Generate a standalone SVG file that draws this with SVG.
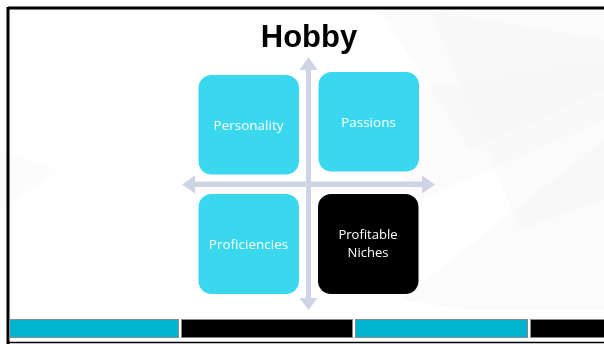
<svg xmlns="http://www.w3.org/2000/svg" width="604" height="344" viewBox="0 0 604 344">
  <style>
    .box { fill: #39D8EF; }
    .dark { fill: #000000; }
    .lbl { font-family: "Open Sans", "Noto Sans", sans-serif; font-size: 13.5px; fill: #FFFFFF; text-anchor: middle; }
    .lbl2 { font-family: "Open Sans", "Noto Sans", sans-serif; font-size: 13px; fill: #FFFFFF; text-anchor: middle; }
    .title { font-family: "Liberation Sans", Arial, sans-serif; font-size: 31px; font-weight: bold; fill: #000000; text-anchor: middle; }
    .axis { fill: #CED4E6; }
    .facet { fill: #D9D9D9; }
    .bandc { fill: #00B3CF; stroke: #8A8A8A; stroke-width: 1; }
    .bandk { fill: #000000; stroke: #8A8A8A; stroke-width: 1; }
  </style>
  <rect x="0" y="0" width="604" height="344" fill="#FFFFFF"/>
  <g id="background" opacity="0.3">
    <polygon class="facet" points="380,10 604,10 604,90 470,150" opacity="0.4"/>
    <polygon class="facet" points="430,10 604,40 604,200 520,230" opacity="0.35"/>
    <polygon class="facet" points="400,300 604,140 604,310 470,310" opacity="0.35"/>
    <polygon class="facet" points="350,100 604,60 604,120 420,200" opacity="0.3"/>
    <polygon class="facet" points="0,150 60,170 0,210" opacity="0.2"/>
  </g>
  <g id="frame">
    <line x1="8" y1="8" x2="604" y2="8" stroke="#000000" stroke-width="3"/>
    <line x1="8" y1="7" x2="8" y2="344" stroke="#000000" stroke-width="3"/>
    <line x1="8" y1="342.5" x2="604" y2="342.5" stroke="#000000" stroke-width="1.5"/>
  </g>
  <g id="band">
    <rect class="bandc" x="9.5" y="319.5" width="169" height="18"/>
    <rect class="bandk" x="181.5" y="319.5" width="171" height="18"/>
    <rect class="bandc" x="355.5" y="319.5" width="172" height="18"/>
    <rect class="bandk" x="530.5" y="319.5" width="80" height="18"/>
  </g>
  <g id="title">
    <text class="title" x="309" y="47">Hobby</text>
  </g>
  <g id="connectors">
    <polygon class="axis" points="308.5,57 317.5,70 311,70 311,181.5 422,181.5 422,175.5 435,184.5 422,193.5 422,187 311,187 311,298 317.5,298 308.5,310 299.5,298 306,298 306,187 195,187 195,193.5 182,184.5 195,175.5 195,181.5 306,181.5 306,70 299.5,70"/>
  </g>
  <g id="node-personality">
    <rect class="box" x="198.5" y="75" width="100.5" height="99.5" rx="13"/>
    <text class="lbl" x="248.5" y="130">Personality</text>
  </g>
  <g id="node-passions">
    <rect class="box" x="318.5" y="72" width="100.5" height="99.5" rx="13"/>
    <text class="lbl" x="368.5" y="127">Passions</text>
  </g>
  <g id="node-proficiencies">
    <rect class="box" x="198.5" y="194" width="100.5" height="100" rx="13"/>
    <text class="lbl" x="248.5" y="248.5">Proficiencies</text>
  </g>
  <g id="node-profitable-niches">
    <rect class="dark" x="318" y="194" width="100.5" height="100" rx="13"/>
    <text class="lbl2" x="368" y="239">Profitable</text>
    <text class="lbl2" x="368" y="256.5">Niches</text>
  </g>
</svg>
